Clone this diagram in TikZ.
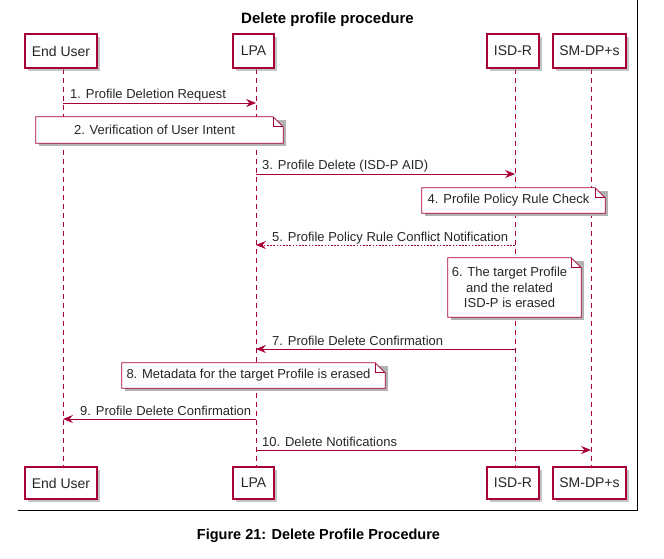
\documentclass[tikz,border=0pt]{standalone}
\usepackage{fontspec}
\setmainfont{Liberation Sans}
\usetikzlibrary{arrows.meta,shadows}
\definecolor{crim}{HTML}{A80036}
\definecolor{txt}{HTML}{262626}
\pgfdeclarelayer{lines}
\pgfdeclarelayer{notebg}
\pgfsetlayers{lines,notebg,main}
\tikzset{
  part/.style={draw=crim, line width=1.2pt, fill=white, minimum height=34pt, inner sep=0pt,
    text=txt, font=\fontsize{14}{16}\selectfont,
    drop shadow={shadow xshift=3pt, shadow yshift=-3pt, fill=black!45, opacity=0.5}},
  life/.style={draw=crim, line width=0.8pt, dash pattern=on 5pt off 4pt},
  msg/.style={draw=crim, line width=0.9pt, -{Stealth[length=10pt,width=8pt,inset=3.5pt]}},
  dotmsg/.style={msg, dash pattern=on 1.6pt off 1.6pt},
  lbl/.style={text=txt, font=\fontsize{13}{15}\selectfont, inner sep=0pt},
  notetxt/.style={text=txt, font=\fontsize{13}{15.5}\selectfont, inner sep=0pt, align=center},
  noteshape/.style={draw=crim, line width=0.8pt, fill=white},
  noteshadow/.style={fill=black!30},
}
\newcommand{\notebox}[1]{%
  \begin{pgfonlayer}{notebg}
    \fill[noteshadow] ([shift={(3,3)}]#1.north west) -- ([shift={(13,3)}]#1.north east)
      -- ([shift={(13,3)}]#1.south east) -- ([shift={(3,3)}]#1.south west) -- cycle;
    \draw[noteshape] (#1.north west) -- (#1.north east) -- ([shift={(10,10)}]#1.north east)
      -- ([shift={(10,0)}]#1.south east) -- (#1.south west) -- cycle;
    \draw[draw=crim, line width=0.8pt] (#1.north east) -- ([shift={(0,10)}]#1.north east)
      -- ([shift={(10,10)}]#1.north east);
  \end{pgfonlayer}}
\begin{document}
\begin{tikzpicture}[x=1pt,y=-1pt]
\useasboundingbox (0,0) rectangle (664,559);
% frame
\draw[black, line width=0.9pt] (637,0) -- (637,510) -- (18,510);
% title
\node[font=\bfseries\fontsize{15}{17}\selectfont] (title) at (327.5,20) {Delete profile procedure};
% participants
\node[part, minimum width=72pt] (eu)  at (61,51)    {End User};
\node[part, minimum width=41pt] (lpa) at (253.5,51) {LPA};
\node[part, minimum width=52pt] (isd) at (513,51)   {ISD-R};
\node[part, minimum width=73pt] (sm)  at (589.5,51) {SM-DP+s};
\node[part, minimum width=72pt, minimum height=32pt] (eub)  at (61,483)    {End User};
\node[part, minimum width=41pt, minimum height=32pt] (lpab) at (253.5,483) {LPA};
\node[part, minimum width=52pt, minimum height=32pt] (isdb) at (513,483)   {ISD-R};
\node[part, minimum width=73pt, minimum height=32pt] (smb)  at (589.5,483) {SM-DP+s};
% lifelines
\begin{pgfonlayer}{lines}
\draw[life] ([xshift=2pt]eu.south)  -- ([xshift=2pt]eub.north);
\draw[life] ([xshift=2.5pt]lpa.south) -- ([xshift=2.5pt]lpab.north);
\draw[life] ([xshift=2pt]isd.south) -- ([xshift=2pt]isdb.north);
\draw[life] ([xshift=1.5pt]sm.south)  -- ([xshift=1.5pt]smb.north);
\end{pgfonlayer}
% lifeline x positions
\coordinate (xeu) at (63,0);
\coordinate (xlpa) at (256,0);
\coordinate (xisd) at (515,0);
\coordinate (xsm) at (591,0);
% 1
\draw[msg] (xeu |- 0,103) -- (xlpa |- 0,103);
\node[lbl, anchor=base west] (l1) at (70,99) {1. Profile Deletion Request};
% 2
\node[notetxt, minimum width=237pt, minimum height=26pt] (n2) at (154.5,130) {2. Verification of User Intent};
\notebox{n2}
% 3
\draw[msg] (xlpa |- 0,174) -- (xisd |- 0,174);
\node[lbl, anchor=base west] (l3) at (262,170) {3. Profile Delete (ISD-P AID)};
% 4
\node[notetxt, minimum width=173pt, minimum height=25pt] (n4) at (508.5,200.5) {4. Profile Policy Rule Check};
\notebox{n4}
% 5
\draw[dotmsg] (xisd |- 0,245) -- (xlpa |- 0,245);
\node[lbl, anchor=base west] (l5) at (272,241) {5. Profile Policy Rule Conflict Notification};
% 6
\node[notetxt, minimum width=123pt, minimum height=59pt] (n6) at (509.5,287.5) {6. The target Profile\\and the related\\ISD-P is erased};
\notebox{n6}
% 7
\draw[msg] (xisd |- 0,349) -- (xlpa |- 0,349);
\node[lbl, anchor=base west] (l7) at (272,345) {7. Profile Delete Confirmation};
% 8
\node[notetxt, minimum width=253pt, minimum height=25pt] (n8) at (248.5,375.5) {8. Metadata for the target Profile is erased};
\notebox{n8}
% 9
\draw[msg] (xlpa |- 0,419) -- (xeu |- 0,419);
\node[lbl, anchor=base west] (l9) at (80,415) {9. Profile Delete Confirmation};
% 10
\draw[msg] (xlpa |- 0,450) -- (xsm |- 0,450);
\node[lbl, anchor=base west] (l10) at (262,446) {10. Delete Notifications};
% caption
\node[font=\bfseries\fontsize{14.5}{17}\selectfont] (cap) at (318.5,536) {Figure 21: Delete Profile Procedure};
\end{tikzpicture}
\end{document}
